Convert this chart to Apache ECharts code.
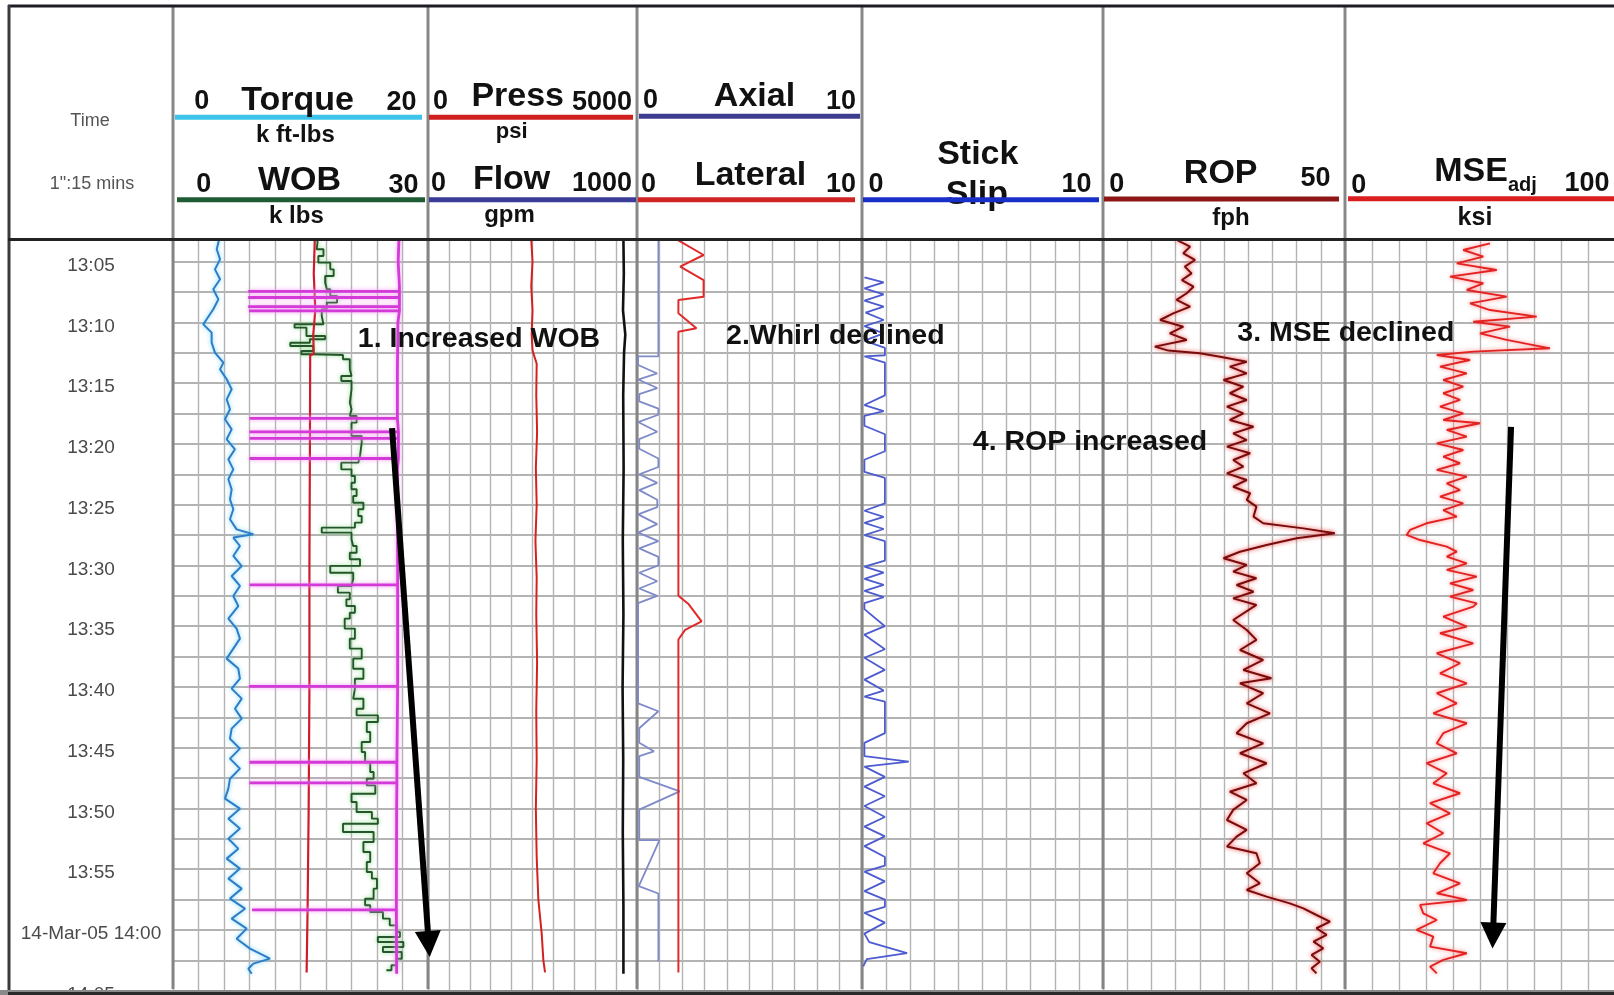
<!DOCTYPE html>
<html>
<head>
<meta charset="utf-8">
<title>Drilling log 14-Mar-05</title>
<script src="https://cdn.jsdelivr.net/npm/echarts@6.0.0/dist/echarts.min.js"></script>
<style>
  html, body { margin: 0; padding: 0; background: #fff; }
  #log { width: 1614px; height: 995px; }
</style>
</head>
<body>
<div id="log"></div>
<script>
// ---------------------------------------------------------------------------
// Time axis: minutes after 13:00 on 14-Mar-05, increasing downwards.
// ---------------------------------------------------------------------------
const timeTicks = [
  [5, '13:05'], [10, '13:10'], [15, '13:15'], [20, '13:20'], [25, '13:25'],
  [30, '13:30'], [35, '13:35'], [40, '13:40'], [45, '13:45'], [50, '13:50'],
  [55, '13:55'], [60, '14-Mar-05 14:00'], [65, '14:05']
];
const timeWindow = { min: 2.5, max: 65, step: 2.5 };

// Curve scales (left / right values printed in the header).
const scales = {
  torque:  { label: 'Torque',  min: 0, max: 20,   unit: 'k ft-lbs' },
  wob:     { label: 'WOB',     min: 0, max: 30,   unit: 'k lbs' },
  press:   { label: 'Press',   min: 0, max: 5000, unit: 'psi' },
  flow:    { label: 'Flow',    min: 0, max: 1000, unit: 'gpm' },
  axial:   { label: 'Axial',   min: 0, max: 10 },
  lateral: { label: 'Lateral', min: 0, max: 10 },
  stick:   { label: 'Stick Slip', min: 0, max: 10 },
  rop:     { label: 'ROP',     min: 0, max: 50,   unit: 'fph' },
  mse:     { label: 'MSE',     sub: 'adj', min: 0, max: 100, unit: 'ksi' }
};

// ---------------------------------------------------------------------------
// Curves: [minutes after 13:00, value]
// ---------------------------------------------------------------------------
const torque = [
  [3.2,3.6],[3.43,3.56],[3.98,3.43],[4.81,3.69],[5.63,3.29],[6.45,3.69],[7.27,3.16],[8.10,3.56],
  [8.92,3.16],[9.74,2.64],[10.16,2.38],[10.84,3.03],[11.66,3.03],[12.49,3.29],[13.31,3.95],[13.86,3.69],
  [14.68,4.21],[15.50,4.60],[16.33,4.21],[17.15,4.47],[17.97,4.08],[18.80,4.60],[19.62,4.21],[20.44,4.86],
  [21.27,4.34],[22.09,4.73],[22.91,4.34],[23.74,4.60],[24.56,4.47],[25.38,4.73],[26.20,4.47],[27.03,4.99],
  [27.44,6.30],[27.71,4.73],[28.40,5.25],[29.22,4.73],[30.05,5.39],[30.87,4.60],[31.69,5.25],[32.51,4.73],
  [33.34,5.12],[34.38,4.34],[35.20,4.99],[36.02,5.25],[36.85,4.73],[37.67,4.21],[38.49,5.12],[39.32,5.25],
  [40.14,4.60],[40.96,5.39],[41.79,4.86],[42.61,5.39],[43.43,4.60],[44.26,4.47],[45.08,5.25],[45.90,4.47],
  [46.72,5.25],[47.55,4.47],[48.37,4.34],[49.19,4.08],[50.02,5.25],[50.84,4.34],[51.66,5.25],[52.49,4.34],
  [53.31,5.12],[54.13,4.21],[54.95,5.25],[55.78,4.34],[56.60,5.39],[57.42,4.47],[58.25,5.65],[59.07,4.60],
  [59.89,5.78],[60.72,4.99],[61.54,6.04],[62.36,7.61],[62.77,6.30],[63.19,5.91],[63.6,6.17]
];

// Weight on bit, logged as held readings (value holds until the next reading).
const wob = [
  [3.2,17.0],[3.43,16.9],[3.98,17.7],[4.53,17.1],[5.08,18.5],[5.63,18.9],[6.18,17.9],[6.73,18.1],
  [7.27,18.5],[7.82,19.3],[8.37,18.1],[8.92,17.5],[9.47,17.7],[10.15,14.3],[10.43,15.7],[11.12,17.9],
  [11.39,16.1],[11.67,13.8],[11.94,16.5],[12.35,15.1],[12.62,16.5],[12.68,20.0],[13.03,20.8],[13.86,21.0],
  [14.41,19.8],[14.82,21.0],[15.5,20.8],[16.6,21.0],[17.15,20.8],[17.7,21.6],[18.25,21.0],[19.35,22.2],
  [19.9,22.0],[20.99,21.8],[21.54,19.8],[22.09,21.0],[22.64,21.4],[23.19,21.0],[23.73,21.6],[24.28,21.2],
  [24.84,22.4],[25.38,21.8],[25.93,22.2],[26.48,21.4],[26.89,17.5],[27.3,21.0],[27.85,21.2],[28.4,21.6],
  [28.95,20.8],[29.49,22.0],[30.04,18.5],[30.6,21.2],[31.14,21.0],[31.69,19.4],[32.24,20.8],[32.79,20.4],
  [33.34,21.4],[33.89,20.8],[34.38,20.2],[35.2,21.4],[36.03,20.8],[36.85,22.2],[37.67,21.2],[38.5,22.4],
  [39.32,21.4],[40.14,21.2],[40.97,22.4],[41.79,21.6],[42.34,24.1],[42.88,22.8],[43.71,23.2],[44.53,22.2],
  [45.35,22.6],[46.18,23.2],[47.0,23.6],[47.55,22.8],[48.1,23.8],[48.79,21.0],[49.47,21.6],[50.29,23.4],
  [50.84,24.1],[51.26,20.0],[51.94,23.6],[52.76,22.4],[53.58,23.2],[54.41,22.8],[55.23,23.4],[55.78,24.0],
  [56.6,23.6],[57.43,22.6],[57.97,23.2],[58.52,24.7],[59.07,25.5],[59.62,26.3],[60.17,26.7],[60.58,24.1],
  [60.99,27.1],[61.4,24.7],[61.82,26.9],[62.37,26.3],[62.91,25.7],[63.32,25.1]
];

// Unlabelled traces in the first track, as percent of track width.
const redTrace = [
  [3.2,55.6],[6,55.2],[9,55.8],[11,55.0],[12.6,55.2],[12.7,53.8],[20,53.7],[30,53.5],
  [40,53.5],[50,53.2],[58,52.8],[63.5,52.4]
];
const magentaTrace = [
  [3.2,88.6],[5,88.3],[7,88.8],[10,88.2],[14,88.0],[18,88.4],[22,88.0],[30,88.1],
  [40,87.8],[50,87.7],[58,87.6],[63.6,87.7]
];
// Short excursions of the magenta trace: [minute, percent reached]
const magentaSpikes = [
  [7.45,29.5],[7.95,29.5],[8.7,29.5],[9.05,29.8],[17.9,30.0],[19.0,30.0],[19.55,30.0],
  [21.2,30.0],[31.6,30.0],[39.95,29.8],[46.2,30.0],[47.9,30.0],[58.35,31.0]
];

const press = [
  [3.2,2470],[5,2500],[7,2470],[9,2500],[11,2480],[12.3,2500],[13.4,2600],[16,2590],[19,2610],
  [22,2580],[25,2600],[28,2570],[31,2600],[34,2590],[38,2610],[42,2590],[46,2600],[50,2580],
  [54,2600],[57.5,2640],[60.3,2720],[62.5,2760],[63.5,2800]
];
const flow = [
  [3.2,935],[6,937],[9,933],[11,944],[12.5,938],[16,934],[22,936],[28,932],[34,935],[40,931],
  [46,934],[52,932],[58,935],[63.6,935]
];

const axial = [
  [3.2,0.95],[12.8,0.95],[12.8,0.05],[13.5,0.05],[14.2,0.9],[14.7,0.05],[15.4,0.9],[15.9,0.1],
  [16.5,0.1],[17.1,0.95],[17.6,0.95],[18.2,0.05],[19.0,0.9],[19.6,0.1],[20.4,0.1],[21.2,0.95],
  [21.9,0.95],[22.5,0.1],[23.2,0.9],[23.8,0.1],[24.6,0.9],[25.2,0.9],[25.8,0.05],[26.6,0.9],
  [27.3,0.05],[28.0,0.95],[28.6,0.1],[29.3,0.95],[30.0,0.95],[30.6,0.1],[31.3,0.9],[31.9,0.1],
  [32.5,0.9],[33.1,0.05],[41.35,0.05],[42.0,0.95],[43.4,0.1],[44.6,0.1],[45.3,0.75],[45.7,0.1],
  [47.4,0.1],[48.6,1.9],[50.1,0.1],[52.6,0.1],[52.6,1.0],[56.4,0.08],[57.0,0.95],[62.6,0.95]
];
const lateral = [
  [3.2,1.8],[4.45,2.96],[5.41,1.92],[6.51,2.96],[7.88,2.96],[8.15,1.84],[9.25,1.84],[10.48,2.64],
  [10.76,1.84],[32.5,1.84],[33.2,2.3],[34.6,2.87],[35.3,2.14],[36.1,1.84],[63.5,1.84]
];

const stickSlip = [
  [6.3,0.1],[6.7,0.9],[7.2,0.1],[7.7,0.9],[8.2,0.1],[8.7,0.9],[9.2,0.15],[9.8,0.9],[10.3,0.1],
  [10.9,0.9],[11.5,0.1],[12.1,0.95],[12.7,0.95],[12.8,0.1],[13.3,0.95],[16.0,0.95],[16.8,0.1],
  [17.3,0.9],[17.7,0.1],[18.5,0.1],[19.2,0.95],[20.6,0.95],[21.3,0.1],[22.3,0.1],[22.8,0.95],
  [24.9,0.95],[25.5,0.1],[26.0,0.9],[26.5,0.1],[27.0,0.9],[27.5,0.1],[28.0,0.95],[29.6,0.95],
  [30.1,0.1],[30.6,0.9],[31.1,0.1],[31.6,0.9],[32.1,0.1],[32.6,0.9],[33.1,0.1],[33.6,0.1],
  [35.0,0.95],[35.7,0.1],[36.9,0.95],[37.6,0.1],[38.6,0.95],[39.4,0.1],[40.3,0.9],[40.8,0.1],
  [41.2,0.95],[43.8,0.95],[44.6,0.1],[45.7,0.1],[46.15,1.94],[46.56,0.1],[47.4,0.95],[48.2,0.1],
  [49.0,0.95],[49.8,0.1],[50.7,0.95],[51.5,0.1],[52.3,0.95],[53.1,0.1],[54.0,0.95],[54.7,0.95],
  [55.2,0.1],[56.0,0.95],[56.8,0.1],[57.5,0.95],[58.1,0.95],[58.6,0.1],[59.4,0.95],[60.3,0.1],
  [61.0,0.3],[61.9,1.87],[62.4,0.2],[63.0,0.05]
];

const rop = [
  [3.21,15.2],[3.76,18.0],[4.31,16.6],[4.86,19.0],[5.41,16.9],[5.96,18.3],[6.51,16.3],[7.06,18.7],
  [7.60,17.3],[8.15,15.2],[8.70,18.0],[9.25,14.5],[9.80,11.8],[10.35,16.6],[10.90,13.8],[11.44,17.3],
  [11.99,10.7],[12.32,13.5],[12.54,20.0],[12.82,24.2],[13.23,29.7],[13.64,26.2],[14.19,29.7],[14.74,24.9],
  [15.29,29.0],[15.83,26.2],[16.38,29.7],[16.93,25.6],[17.48,29.0],[18.03,26.2],[18.58,31.1],[19.13,26.9],
  [19.68,29.7],[20.22,25.6],[20.77,30.4],[21.32,26.9],[21.87,29.0],[22.42,25.6],[22.97,29.7],[23.52,26.9],
  [24.06,30.4],[24.61,29.7],[25.16,31.7],[25.98,31.1],[26.53,33.1],[26.95,41.4],[27.36,47.9],[27.77,40.0],
  [28.32,33.8],[28.87,28.3],[29.41,24.9],[29.96,29.7],[30.51,26.9],[31.06,31.7],[31.61,27.6],[32.16,31.1],
  [32.71,26.9],[33.25,31.7],[34.49,26.9],[35.31,29.7],[36.13,31.7],[36.96,28.3],[37.78,33.1],[38.60,29.0],
  [39.29,34.8],[39.70,28.3],[40.52,33.1],[41.35,29.7],[42.17,34.5],[42.99,29.7],[43.81,27.6],[44.64,33.1],
  [45.46,28.3],[46.28,33.8],[47.11,29.0],[47.93,31.7],[48.62,26.2],[49.30,29.7],[50.12,26.9],[50.95,25.6],
  [51.77,29.7],[52.32,27.6],[53.14,25.6],[53.69,31.7],[54.51,32.4],[55.34,29.7],[56.16,32.4],[56.71,29.7],
  [57.26,33.8],[57.81,38.6],[58.22,41.4],[58.77,44.1],[59.31,46.9],[59.86,44.1],[60.41,46.2],[60.96,43.5],
  [61.51,45.5],[62.06,43.1],[62.61,44.8],[63.16,43.1],[63.57,44.1]
];

const mse = [
  [3.49,53.7],[4.04,43.8],[4.59,51.2],[5.14,41.4],[5.68,56.2],[6.23,38.9],[6.78,51.2],[7.33,45.1],
  [7.88,59.9],[8.43,46.3],[8.98,53.7],[9.52,71.0],[9.94,47.5],[10.35,61.1],[10.90,50.0],[11.44,59.9],
  [12.13,75.9],[12.40,47.5],[12.68,34.0],[13.09,46.3],[13.64,35.2],[14.19,45.1],[14.74,36.4],[15.29,43.8],
  [15.83,36.4],[16.38,42.6],[16.93,35.2],[17.48,43.8],[18.03,36.4],[18.30,50.0],[18.85,37.7],[19.40,45.1],
  [19.95,34.0],[20.50,43.8],[21.05,36.4],[21.59,42.6],[22.14,34.0],[22.69,45.1],[23.24,37.7],[23.79,42.6],
  [24.34,35.2],[24.89,43.8],[25.44,36.4],[25.98,41.4],[26.53,30.2],[27.08,24.1],[27.49,22.8],[27.91,27.8],
  [28.45,37.7],[28.87,41.4],[29.28,37.7],[29.83,45.1],[30.37,37.7],[30.92,48.8],[31.47,38.9],[32.02,47.5],
  [32.57,38.9],[33.12,48.8],[33.39,47.5],[34.21,36.4],[35.03,45.1],[35.58,35.2],[36.41,47.5],[37.23,34.0],
  [38.05,42.6],[38.88,35.2],[39.70,45.1],[40.52,34.0],[41.35,41.4],[42.17,32.7],[42.99,45.1],[43.81,36.4],
  [44.64,34.0],[45.46,41.4],[46.28,30.2],[47.11,37.7],[47.93,32.7],[48.75,42.6],[49.57,31.5],[50.40,38.9],
  [51.22,30.2],[52.04,36.4],[52.87,29.0],[53.69,38.9],[54.51,35.2],[55.34,32.7],[56.16,42.6],[56.98,34.0],
  [57.53,45.1],[57.94,27.8],[58.63,29.0],[59.18,34.0],[60.00,26.5],[60.55,32.7],[61.37,31.5],[61.92,45.1],
  [62.47,36.4],[63.02,31.5],[63.57,34.0]
];

// Trend arrows, in [percent of track, minute] of the track they start in.
const wobArrow = [[85.9, 18.7], [100.3, 61.15]];
const mseArrow = [[61.5, 18.6], [54.8, 60.45]];

// ---------------------------------------------------------------------------
// Layout
// ---------------------------------------------------------------------------
const W = 1614, H = 995;
const GRID_TOP = 231.3, GRID_BOTTOM = 990.7;           // pixel rows of 2.5 and 65 minutes
const edges = [173, 428, 637, 862, 1103, 1345, 1615]; // track borders
const HEAD_BOTTOM = 239.5;
const SANS = '"Liberation Sans", Arial, Helvetica, sans-serif';

const grids = [];
for (let i = 0; i < 6; i++) {
  grids.push({ left: edges[i], width: edges[i + 1] - edges[i], top: GRID_TOP,
               height: GRID_BOTTOM - GRID_TOP, containLabel: false, outerBoundsMode: 'none',
               show: false });
}

const tickMap = new Map(timeTicks.map(([m, s]) => [m, s]));
function timeLabel(v) {
  const m = Math.round(v * 2) / 2;
  return tickMap.has(m) ? tickMap.get(m) : '';
}

// Time labels sit just below their grid line.
const yAxes = grids.map((g, i) => ({
  type: 'value', gridIndex: i, inverse: true,
  min: timeWindow.min, max: timeWindow.max, interval: timeWindow.step,
  axisLine: { show: false }, axisTick: { show: false },
  axisLabel: i === 0 ? {
    show: true, formatter: timeLabel, margin: 82, align: 'center', verticalAlign: 'top',
    lineHeight: 8, color: '#4a4a4a', fontFamily: SANS, fontSize: 19
  } : { show: false },
  splitLine: { show: true, lineStyle: { color: '#9a9a9a', width: 1.5 } }
}));

function visibleX(grid, s) {
  return { type: 'value', gridIndex: grid, min: s.min, max: s.max, interval: (s.max - s.min) / 10,
           position: 'top', axisLine: { show: false }, axisTick: { show: false },
           axisLabel: { show: false },
           splitLine: { show: true, lineStyle: { color: '#b3b3b3', width: 1.4 } } };
}
function hiddenX(grid, min, max) {
  return { type: 'value', gridIndex: grid, min, max, show: false, position: 'bottom' };
}
const xAxes = [
  visibleX(0, scales.torque),        // 0
  hiddenX(0, scales.wob.min, scales.wob.max), // 1
  hiddenX(0, 0, 100),                // 2 percent of track 1
  visibleX(1, scales.press),         // 3
  hiddenX(1, scales.flow.min, scales.flow.max), // 4
  visibleX(2, scales.axial),         // 5
  hiddenX(2, scales.lateral.min, scales.lateral.max), // 6
  visibleX(3, scales.stick),         // 7
  visibleX(4, scales.rop),           // 8
  visibleX(5, scales.mse)            // 9
];

// Value/time pairs swapped into [x, y] for a vertical log.
const xy = arr => arr.map(([t, v]) => [v, t]);

// Held readings drawn as a staircase.
function staircase(arr) {
  const out = [];
  for (let i = 0; i < arr.length; i++) {
    out.push([arr[i][1], arr[i][0]]);
    if (i < arr.length - 1) out.push([arr[i][1], arr[i + 1][0]]);
  }
  return out;
}

// Magenta trace with its excursions merged in time order.
function magentaPath() {
  const out = [];
  let bi = 0, si = 0, base = magentaTrace[0][1];
  while (bi < magentaTrace.length || si < magentaSpikes.length) {
    if (si < magentaSpikes.length &&
        (bi >= magentaTrace.length || magentaSpikes[si][0] < magentaTrace[bi][0])) {
      const [t, reach] = magentaSpikes[si++];
      out.push([base, t], [reach, t], [base, t]);
    } else {
      const [t, v] = magentaTrace[bi++];
      base = v;
      out.push([v, t]);
    }
  }
  return out;
}

function curve(name, xi, yi, data, color, width, glow, z) {
  const s = { name, type: 'line', xAxisIndex: xi, yAxisIndex: yi, data, symbol: 'none',
              showSymbol: false, smooth: false, silent: true, z: z || 3,
              lineStyle: { color, width } };
  if (glow) { s.lineStyle.shadowColor = glow; s.lineStyle.shadowBlur = 4; }
  return s;
}

function arrow(xi, yi, coords) {
  return { type: 'lines', coordinateSystem: 'cartesian2d', xAxisIndex: xi, yAxisIndex: yi,
           clip: false, silent: true, z: 20,
           symbol: ['none', 'triangle'], symbolSize: [22, 26],
           lineStyle: { color: '#000', width: 6, opacity: 1, curveness: 0 },
           data: [{ coords: coords.map(([p, t]) => [p, t]) }] };
}

const series = [
  curve('Torque', 0, 0, xy(torque), '#2f7dc6', 2, 'rgba(110,210,250,0.95)'),
  curve('WOB', 1, 0, staircase(wob), '#23572a', 1.9, 'rgba(120,210,120,0.85)'),
  curve('red trace', 2, 0, xy(redTrace), '#d01b2a', 2.2),
  curve('magenta trace', 2, 0, magentaPath(), '#d43ad8', 2.8, 'rgba(245,150,245,0.95)'),
  curve('Press', 3, 1, xy(press), '#d42020', 2),
  curve('Flow', 4, 1, xy(flow), '#111111', 2.6),
  curve('Axial', 5, 2, xy(axial), '#7f8ac8', 1.8),
  curve('Lateral', 6, 2, xy(lateral), '#e02a2a', 2),
  curve('Stick Slip', 7, 3, xy(stickSlip), '#4d5bd0', 1.8),
  curve('ROP', 8, 4, xy(rop), '#7a0b0b', 2, 'rgba(235,50,50,0.95)'),
  curve('MSE', 9, 5, xy(mse), '#e42222', 1.9, 'rgba(255,120,120,0.95)'),
  arrow(2, 0, wobArrow),
  arrow(9, 5, mseArrow)
];

// ---------------------------------------------------------------------------
// Header and frame
// ---------------------------------------------------------------------------
function txt(x, y, text, size, o) {
  o = o || {};
  return { type: 'text', z: 70, silent: true,
           style: { x, y, text, font: `${o.weight || 'bold'} ${size}px ${SANS}`,
                    fill: o.color || '#111', align: o.align || 'center', verticalAlign: 'middle' } };
}
function hline(x1, x2, y, color, w, z) {
  return { type: 'line', z: z || 65, silent: true, shape: { x1, y1: y, x2, y2: y },
           style: { stroke: color, lineWidth: w } };
}
function vline(x, y1, y2, color, w, z) {
  return { type: 'line', z: z || 65, silent: true, shape: { x1: x, y1, x2: x, y2 },
           style: { stroke: color, lineWidth: w } };
}

const BIG = 34, NUM = 27, UNIT = 24, NOTE = 28.5;
const S = scales;
const g = [];
g.push({ type: 'rect', z: 50, silent: true, shape: { x: 0, y: 0, width: W, height: HEAD_BOTTOM },
         style: { fill: '#ffffff' } });
// track separators
edges.slice(0, 6).forEach(x => {
  g.push(vline(x, 7, HEAD_BOTTOM, '#888888', 3, 60));
  g.push(vline(x, HEAD_BOTTOM, 989, '#858585', 3, 1));
});
// time column caption
g.push(txt(90, 121.5, 'Time', 18, { weight: 'normal', color: '#555' }));
g.push(txt(92, 184, '1":15 mins', 18, { weight: 'normal', color: '#555' }));

// Track 1: Torque / WOB
g.push(txt(201.7, 102, String(S.torque.min), NUM), txt(297.5, 100.8, S.torque.label, BIG),
       txt(401.4, 103, String(S.torque.max), NUM), hline(175, 422, 117.3, '#3ec4ea', 5),
       txt(295.4, 135.5, S.torque.unit, UNIT));
g.push(txt(203.8, 184.5, String(S.wob.min), NUM), txt(299.5, 181, S.wob.label, BIG),
       txt(403.5, 185.5, String(S.wob.max), NUM), hline(177, 425, 199.7, '#1f5c34', 5),
       txt(296.4, 216.5, S.wob.unit, UNIT));
// Track 2: Press / Flow
g.push(txt(440.5, 102, String(S.press.min), NUM), txt(517.7, 96.7, S.press.label, BIG),
       txt(602, 103, String(S.press.max), NUM), hline(429, 633, 117.3, '#cf1f1f', 5),
       txt(511.6, 132, S.press.unit, 22));
g.push(txt(438.5, 183.5, String(S.flow.min), NUM), txt(511.6, 180, S.flow.label, BIG),
       txt(602, 183.5, String(S.flow.max), NUM), hline(429, 636, 199.7, '#3b3b98', 5),
       txt(509.5, 215, S.flow.unit, UNIT));
// Track 3: Axial / Lateral
g.push(txt(650.5, 101, String(S.axial.min), NUM), txt(754.5, 96.7, S.axial.label, BIG),
       txt(841, 102, String(S.axial.max), NUM), hline(639, 860, 116.3, '#3d3d8f', 5));
g.push(txt(648.5, 184.5, String(S.lateral.min), NUM), txt(750.4, 176, S.lateral.label, BIG),
       txt(841, 184.5, String(S.lateral.max), NUM), hline(638, 855, 199.7, '#d02424', 5));
// Track 4: Stick Slip
const [stickWord, slipWord] = S.stick.label.split(' ');
g.push(txt(977.8, 155, stickWord, BIG), txt(976.8, 195, slipWord, BIG),
       txt(876, 184.5, String(S.stick.min), NUM), txt(1076.6, 185, String(S.stick.max), NUM),
       hline(863, 1099, 199.7, '#1830c8', 5, 72));
// Track 5: ROP
g.push(txt(1116.7, 185, String(S.rop.min), NUM), txt(1220.7, 174, S.rop.label, BIG),
       txt(1315.4, 178.5, String(S.rop.max), NUM), hline(1104, 1339, 198.9, '#8e1616', 5),
       txt(1231, 218.5, S.rop.unit, UNIT));
// Track 6: MSE adj
g.push(txt(1358.7, 185.5, String(S.mse.min), NUM), txt(1471, 171.5, S.mse.label, BIG),
       txt(1508, 185, S.mse.sub, 20, { align: 'left' }),
       txt(1587, 184, String(S.mse.max), NUM), hline(1348, 1614, 198.8, '#d81e1e', 5),
       txt(1475, 218.5, S.mse.unit, 25));

// frame
g.push(hline(8, W, 6, '#1d1d26', 3, 80));
g.push(vline(9, 5, 994, '#3a3a3a', 3, 80));
g.push(hline(8, W, HEAD_BOTTOM, '#222222', 3, 80));
g.push({ type: 'rect', z: 80, silent: true, shape: { x: 0, y: 990, width: W, height: 5 },
         style: { fill: '#8a8a8a' } });
g.push(hline(8, W, 993.5, '#2a2a2a', 3, 81));

// annotations
g.push(txt(479, 339, '1. Increased WOB', NOTE), txt(835.3, 336, '2.Whirl declined', NOTE),
       txt(1345.8, 333, '3. MSE declined', NOTE), txt(1090, 442, '4. ROP increased', NOTE));

const chart = echarts.init(document.getElementById('log'), null, { renderer: 'canvas', width: W, height: H });
chart.setOption({
  animation: false,
  backgroundColor: '#ffffff',
  grid: grids,
  xAxis: xAxes,
  yAxis: yAxes,
  series,
  graphic: { elements: g }
});
</script>
</body>
</html>
